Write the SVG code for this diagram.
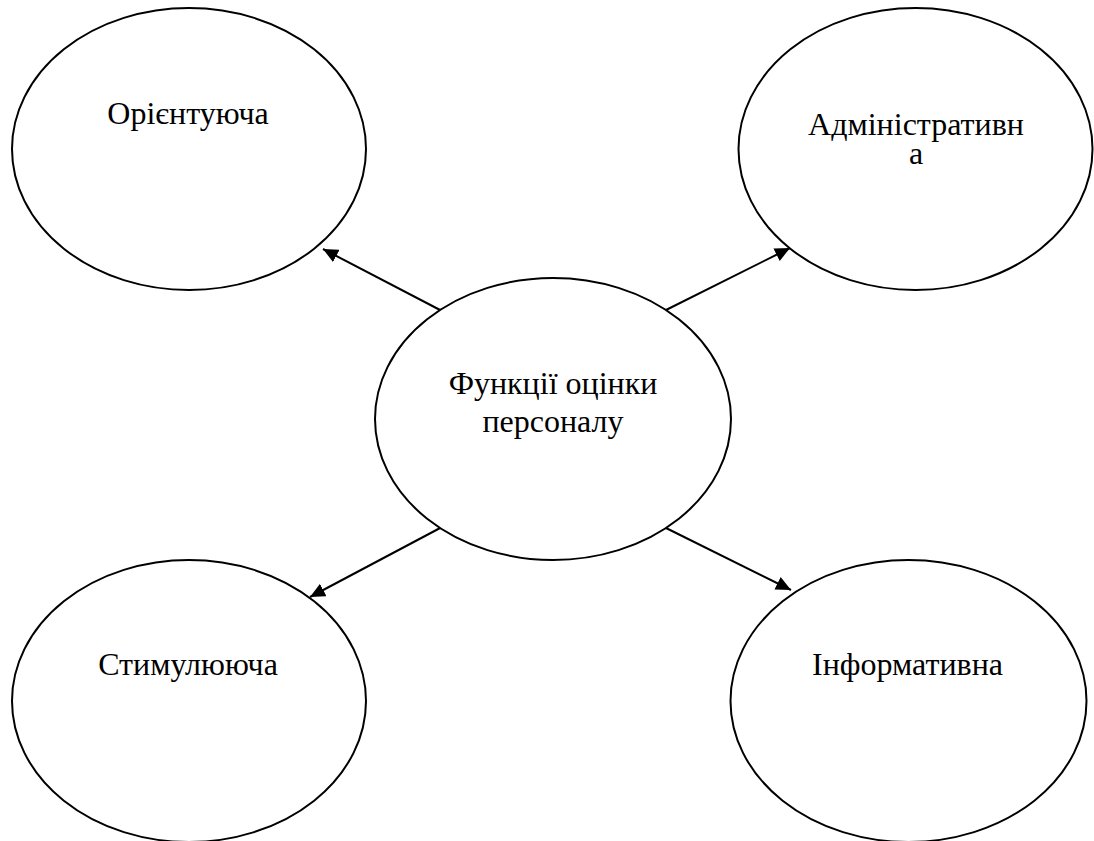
<svg xmlns="http://www.w3.org/2000/svg" width="1094" height="841" viewBox="0 0 1094 841">
<style>
.node ellipse { fill: #ffffff; stroke: #000000; stroke-width: 2; }
.node text { font-family: "Liberation Serif", "Times New Roman", serif; font-size: 32px; fill: #000000; text-anchor: middle; }
.conn line { stroke: #000000; stroke-width: 2; marker-end: url(#arrow); }
</style>
<defs>
<marker id="arrow" markerUnits="userSpaceOnUse" markerWidth="16" markerHeight="14" viewBox="0 0 16 14" refX="15" refY="7" orient="auto">
<path d="M0,0 L15,7 L0,14 Z" fill="#000000"/>
</marker>
</defs>
<rect width="1094" height="841" fill="#ffffff"/>
<g id="connectors" class="conn">
<line x1="442" y1="311" x2="323" y2="249"/>
<line x1="664" y1="311" x2="790" y2="248"/>
<line x1="442" y1="527" x2="310" y2="597"/>
<line x1="664" y1="527" x2="791" y2="590"/>
</g>
<g id="node-center" class="node">
<ellipse cx="553" cy="419" rx="178" ry="141"/>
<text x="553" y="394">Функції оцінки</text>
<text x="553" y="432">персоналу</text>
</g>
<g id="node-orientuiucha" class="node">
<ellipse cx="189" cy="149" rx="177" ry="141"/>
<text x="188" y="124">Орієнтуюча</text>
</g>
<g id="node-administratyvna" class="node">
<ellipse cx="915.5" cy="149" rx="177" ry="141"/>
<text x="916" y="135">Адміністративн</text>
<text x="916" y="164">а</text>
</g>
<g id="node-stymuliuiucha" class="node">
<ellipse cx="189" cy="701" rx="177" ry="141"/>
<text x="188" y="675">Стимулююча</text>
</g>
<g id="node-informatyvna" class="node">
<ellipse cx="908.5" cy="701" rx="178" ry="141"/>
<text x="907.5" y="675">Інформативна</text>
</g>
</svg>
